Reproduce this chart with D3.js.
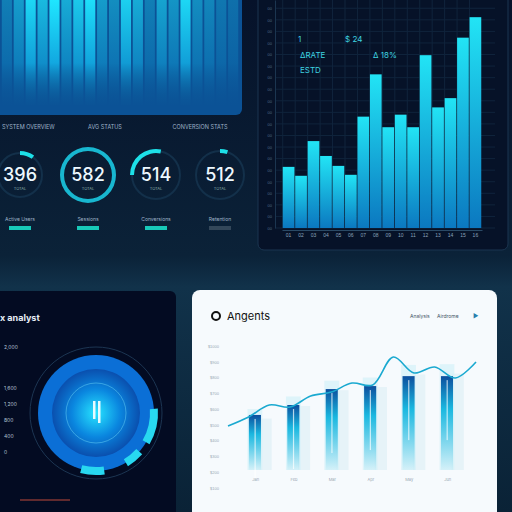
<!DOCTYPE html>
<html><head><meta charset="utf-8">
<script src="https://cdn.jsdelivr.net/npm/d3@7"></script>
<style>body{margin:0;background:#08182a;overflow:hidden}svg{display:block;font-family:Inter,"DejaVu Sans",sans-serif}</style>
</head><body><div id="chart"></div>
<script>
// data
const streaks = [0.3,0.5,0.9,0.7,1,0.6,0.8,0.95,0.5,0.4,0.85,0.6,0.3,0.55,0.45,0.9,0.4,0.35,0.25,0.2];
const gaugeValues = [396, 582, 514, 512];
const gaugeFill = [0.1, 1, 0.2, 0.05];
const gaugeLabels = ["Active Users", "Sessions", "Conversions", "Retention"];
const barValues = [185,158,263,218,188,161,337,465,305,343,305,523,365,393,576,638];
const barTicks = ["01","02","03","04","05","06","07","08","09","10","11","12","13","14","15","16"];
const leftLabels = ["2,000","1,600","1,200","800","400","0"];
const cardMonths = ["Jan","Feb","Mar","Apr","May","Jun"];
const cardBars = [563,626,727,746,809,809];
const cardGhost = [600,680,780,800,880,885];
const lineVals = [493,550,626,613,683,708,765,753,930,829,867,797,899];
const cardTicks = [100,200,300,400,500,600,700,800,900,1000];

const W = 512, H = 512;
const svg = d3.select("#chart").append("svg").attr("width", W).attr("height", H);
const defs = svg.append("defs");

// background
const bg = defs.append("linearGradient").attr("id","bg").attr("x1",0).attr("y1",0).attr("x2",0).attr("y2",1);
bg.append("stop").attr("offset","0").attr("stop-color","#06122a");
bg.append("stop").attr("offset","0.5").attr("stop-color","#0b2238");
bg.append("stop").attr("offset","0.56").attr("stop-color","#11324a");
bg.append("stop").attr("offset","1").attr("stop-color","#0a2236");
svg.append("rect").attr("width",W).attr("height",H).attr("fill","url(#bg)");

/* Top-left streak panel */
const sg = defs.append("linearGradient").attr("id","streak").attr("x1",0).attr("y1",0).attr("x2",0).attr("y2",1);
sg.append("stop").attr("offset","0").attr("stop-color","#1fe6ff");
sg.append("stop").attr("offset","0.6").attr("stop-color","#12a8e0");
sg.append("stop").attr("offset","1").attr("stop-color","#0b5f9a").attr("stop-opacity",0.1);
svg.append("rect").attr("x",-6).attr("y",-6).attr("width",248).attr("height",121).attr("rx",6).attr("fill","#0b5296");
const xs = d3.scaleBand().domain(d3.range(streaks.length)).range([0,240]).padding(0.15);
svg.append("g").selectAll("rect").data(streaks).join("rect")
  .attr("x",(d,i)=>xs(i)).attr("y",0).attr("width",xs.bandwidth()).attr("height",105)
  .attr("fill","url(#streak)").attr("opacity",d=>d);

/* Gauges */
const gx = [20, 88, 156, 220], gr = [22, 26, 24, 24];
const arc = d3.arc();
svg.append("g").selectAll("text").data(["SYSTEM OVERVIEW","AVG STATUS","CONVERSION STATS"]).join("text")
  .attr("x",(d,i)=>[2,105,200][i]).attr("y",129).attr("text-anchor",(d,i)=>i?"middle":"start")
  .attr("font-size",5.5).attr("fill","#9fb3c8").text(d=>d);
gaugeValues.forEach((v,i)=>{
  const g = svg.append("g").attr("transform",`translate(${gx[i]},175)`);
  g.append("circle").attr("r",gr[i]).attr("fill","none").attr("stroke","#13304a").attr("stroke-width",2);
  g.append("path").attr("d",arc({innerRadius:gr[i]-2,outerRadius:gr[i]+2,startAngle:i===2?-Math.PI/2:0,endAngle:i===2?0.2:Math.PI*2*gaugeFill[i]}))
    .attr("fill",i===1?"#18b7d0":"#1de0e8");
  g.append("text").attr("y",6).attr("text-anchor","middle").attr("font-size",18).attr("font-weight",500).attr("fill","#eef8ff").text(v);
  g.append("text").attr("y",15).attr("text-anchor","middle").attr("font-size",4).attr("fill","#8aa").text("TOTAL");
  g.append("text").attr("y",46).attr("text-anchor","middle").attr("font-size",5).attr("fill","#9fb3c8").text(gaugeLabels[i]);
  g.append("rect").attr("x",-11).attr("y",51).attr("width",22).attr("height",4).attr("fill",i<3?"#18c9b9":"#33475a");
});

/* Right bar panel */
svg.append("rect").attr("x",258).attr("y",-6).attr("width",250).attr("height",256).attr("rx",6)
  .attr("fill","#061228").attr("stroke","#1b3550");
const bx = d3.scaleBand().domain(barTicks).range([282,482]).padding(0.06);
const by = d3.scaleLinear().domain([0,690]).range([228,0]);
const grid = svg.append("g");
grid.selectAll("line.h").data(d3.range(0,690,35)).join("line")
  .attr("x1",275).attr("x2",495).attr("y1",d=>by(d)).attr("y2",d=>by(d)).attr("stroke","#10243c");
grid.selectAll("line.v").data(barTicks).join("line")
  .attr("x1",d=>bx(d)).attr("x2",d=>bx(d)).attr("y1",0).attr("y2",228).attr("stroke","#10243c");
svg.append("g").attr("transform","translate(275,0)")
  .call(d3.axisLeft(by).tickValues(d3.range(0,690,35)).tickFormat(()=>"00").tickSize(0))
  .call(g=>{g.select(".domain").attr("stroke","#1b3550");g.selectAll("text").attr("fill","#4d6a86").attr("font-size",4);});
const bg2 = defs.append("linearGradient").attr("id","bar").attr("x1",0).attr("y1",0).attr("x2",0).attr("y2",1);
bg2.append("stop").attr("offset","0").attr("stop-color","#22e4f5");
bg2.append("stop").attr("offset","1").attr("stop-color","#0b78c0");
svg.append("g").selectAll("rect").data(barValues).join("rect")
  .attr("x",(d,i)=>bx(barTicks[i])).attr("width",bx.bandwidth())
  .attr("y",d=>by(d)).attr("height",d=>228-by(d)).attr("fill","url(#bar)");
svg.append("g").attr("transform","translate(0,230)")
  .call(d3.axisBottom(bx).tickSize(0))
  .call(g=>{g.select(".domain").attr("stroke","#2a4a66");g.selectAll("text").attr("fill","#8aa3bb").attr("font-size",5);});
[["1",298,42],["$ 24",345,42],["ΔRATE",300,58],["Δ 18%",373,58],["ESTD",300,73]].forEach(t=>
  svg.append("text").attr("x",t[1]).attr("y",t[2]).attr("font-size",8).attr("fill","#3fd4e0").text(t[0]));

/* Bottom-left donut panel */
svg.append("rect").attr("x",-6).attr("y",291).attr("width",182).attr("height",230).attr("rx",6).attr("fill","#030b22");
svg.append("text").attr("x",0).attr("y",321).attr("font-size",9).attr("font-weight","bold").attr("fill","#e6eef6").text("x analyst");
svg.append("g").selectAll("text").data(leftLabels).join("text")
  .attr("x",4).attr("y",(d,i)=>[349,390,406,422,438,454][i]).attr("font-size",5).attr("fill","#b4c4d4").text(d=>d);
const rg = defs.append("radialGradient").attr("id","glow");
rg.append("stop").attr("offset","0").attr("stop-color","#27e4ff");
rg.append("stop").attr("offset","0.55").attr("stop-color","#0a86df");
rg.append("stop").attr("offset","1").attr("stop-color","#0a4fae");
const dn = svg.append("g").attr("transform","translate(96,413)");
dn.append("circle").attr("r",66).attr("fill","none").attr("stroke","#1c3552").attr("stroke-width",1);
dn.append("circle").attr("r",58).attr("fill","#0b6fd6");
dn.append("circle").attr("r",44).attr("fill","url(#glow)");
dn.append("circle").attr("r",30).attr("fill","none").attr("stroke","#7fe8ff").attr("stroke-opacity",0.4);
[[1.5,2.1],[2.3,2.6],[3.0,3.4]].forEach(a=>dn.append("path")
  .attr("d",arc({innerRadius:54,outerRadius:62,startAngle:a[0],endAngle:a[1]})).attr("fill","#28d8f0"));
dn.append("rect").attr("x",-3).attr("y",-12).attr("width",2.5).attr("height",18).attr("fill","#e8faff");
dn.append("rect").attr("x",2).attr("y",-12).attr("width",2.5).attr("height",22).attr("fill","#e8faff");
svg.append("line").attr("x1",20).attr("x2",70).attr("y1",500).attr("y2",500).attr("stroke","#c04a3a");

/* White card */
svg.append("rect").attr("x",192).attr("y",290).attr("width",305).attr("height",240).attr("rx",8).attr("fill","#f6fafd");
svg.append("circle").attr("cx",216).attr("cy",316).attr("r",4).attr("fill","none").attr("stroke","#111").attr("stroke-width",2);
svg.append("text").attr("x",227).attr("y",320).attr("font-size",11).attr("fill","#111").text("Angents");
svg.append("text").attr("x",410).attr("y",318).attr("font-size",5).attr("fill","#456").text("Analysis");
svg.append("text").attr("x",437).attr("y",318).attr("font-size",5).attr("fill","#456").text("Airdrome");
svg.append("text").attr("x",473).attr("y",318).attr("font-size",6).attr("fill","#2a7fae").text("▶");
const cy = d3.scaleLinear().domain([100,1000]).range([488,346]);
svg.append("g").attr("transform","translate(222,0)")
  .call(d3.axisLeft(cy).tickValues(cardTicks).tickSize(0).tickFormat(d=>"$"+d))
  .call(g=>{g.select(".domain").remove();g.selectAll("text").attr("fill","#9aa8b4").attr("font-size",4);});
const cx = d3.scaleBand().domain(cardMonths).range([236,478]).padding(0.3);
const lx = d3.scalePoint().domain(d3.range(lineVals.length)).range([228,476]);
const cg = defs.append("linearGradient").attr("id","cbar").attr("x1",0).attr("y1",0).attr("x2",0).attr("y2",1);
cg.append("stop").attr("offset","0").attr("stop-color","#0c4f9e");
cg.append("stop").attr("offset","0.35").attr("stop-color","#1ab8e0");
cg.append("stop").attr("offset","1").attr("stop-color","#1ab8e0").attr("stop-opacity",0.05);
const cards = svg.append("g");
cardMonths.forEach((m,i)=>{
  const x0 = cx(m), w = cx.bandwidth();
  cards.append("rect").attr("x",x0+w*0.45).attr("y",cy(cardGhost[i]-60)).attr("width",w*0.45).attr("height",470-cy(cardGhost[i]-60)).attr("fill","#e6f3f8");
  cards.append("rect").attr("x",x0).attr("y",cy(cardGhost[i])).attr("width",w*0.55).attr("height",470-cy(cardGhost[i])).attr("fill","#d4f1f8").attr("opacity",0.7);
  cards.append("rect").attr("x",x0+w*0.05).attr("y",cy(cardBars[i])).attr("width",w*0.45).attr("height",470-cy(cardBars[i])).attr("fill","url(#cbar)");
  cards.append("rect").attr("x",x0+w*0.26).attr("y",cy(cardBars[i])+4).attr("width",1.2).attr("height",60).attr("fill","#fff").attr("opacity",0.7);
  cards.append("text").attr("x",x0+w*0.3).attr("y",481).attr("text-anchor","middle").attr("font-size",4).attr("fill","#9aa8b4").text(m);
});
svg.append("path").datum(lineVals)
  .attr("d",d3.line().x((d,i)=>lx(i)).y(d=>cy(d)).curve(d3.curveCatmullRom))
  .attr("fill","none").attr("stroke","#1aa9d0").attr("stroke-width",1.6);
</script></body></html>
